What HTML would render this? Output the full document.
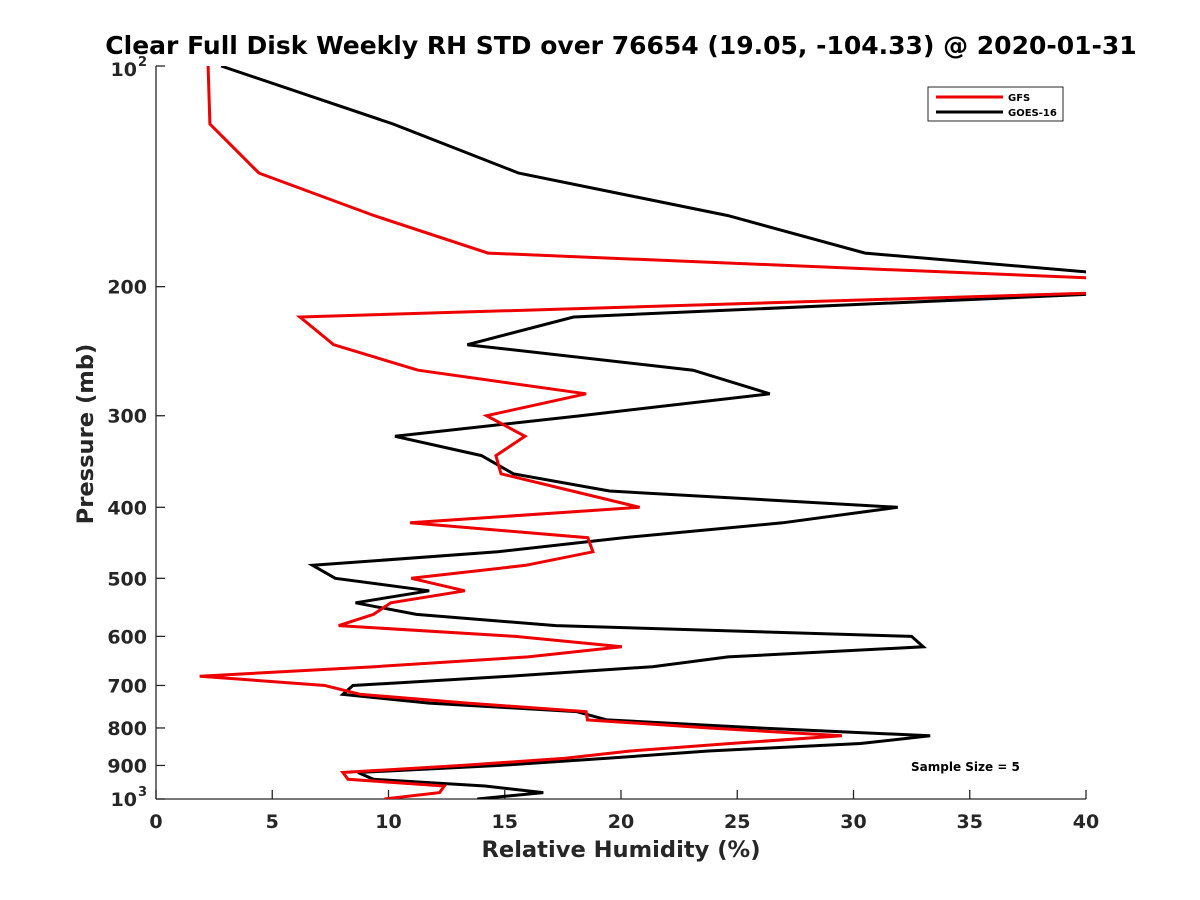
<!DOCTYPE html>
<html><head><meta charset="utf-8"><style>
html,body{margin:0;padding:0;background:#fff;}
svg{display:block;font-family:"DejaVu Sans","Liberation Sans",sans-serif;font-weight:bold;}
</style></head><body>
<svg id="chart" width="1200" height="900" viewBox="0 0 1200 900">
<defs><clipPath id="plotclip"><rect x="156" y="66" width="930" height="733"/></clipPath></defs>
<text x="621" y="54" text-anchor="middle" font-size="25" fill="#000">Clear Full Disk Weekly RH STD over 76654 (19.05, -104.33) @ 2020-01-31</text>
<g id="axes"></g>
<g id="series" clip-path="url(#plotclip)"></g>
<text x="621" y="857" text-anchor="middle" font-size="22.6" fill="#262626">Relative Humidity (%)</text>
<text transform="translate(93,434) rotate(-90)" text-anchor="middle" font-size="22.6" fill="#262626">Pressure (mb)</text>
<g>
<rect x="928" y="87" width="135" height="34" fill="#fff" stroke="#262626" stroke-width="1"/>
<line x1="936" y1="97" x2="1003" y2="97" stroke="#ee0000" stroke-width="3"/>
<text x="1008" y="101" font-size="10">GFS</text>
<line x1="936" y1="112" x2="1003" y2="112" stroke="#000" stroke-width="3"/>
<text x="1008" y="116" font-size="10">GOES-16</text>
</g>
<text x="911" y="771" font-size="12" fill="#000">Sample Size = 5</text>
</svg>
<script>
const pressures = [100,120,140,160,180,200,220,240,260,280,300,320,340,360,380,400,420,440,460,480,500,520,540,560,580,600,620,640,660,680,700,720,740,760,780,800,820,840,860,880,900,920,940,960,980,1000];
const gfsValues = [2.24,2.32,4.43,9.38,14.28,49.3,6.19,7.64,11.27,18.5,14.22,15.87,14.62,14.84,17.9,20.8,10.93,18.57,18.79,15.9,10.98,13.28,10.1,9.35,7.86,15.46,20.04,16.0,9.4,1.88,7.27,8.8,13.4,18.5,18.56,23.8,29.5,24.7,20.4,17.6,13.1,8.04,8.26,12.4,12.2,9.83];
const goesValues = [2.8,10.2,15.6,24.6,30.5,47.5,17.96,13.39,23.1,26.4,18.26,10.28,14.0,15.37,19.5,31.9,26.95,20.1,14.7,6.73,7.71,11.75,8.58,11.2,17.2,32.5,33.0,24.6,21.35,15.2,8.47,8.04,11.75,18.08,19.4,26.0,33.3,30.3,23.76,19.4,14.7,8.69,9.35,14.15,16.66,13.82];
const xTicks = [0,5,10,15,20,25,30,35,40];
const yTicks = [100,200,300,400,500,600,700,800,900,1000];
const yTickLabels = ["10^2","200","300","400","500","600","700","800","900","10^3"];

const X0=156,X1=1086,Y0=66,Y1=799;
function xs(v){return X0+(v-0)/(40-0)*(X1-X0);}
function ys(p){return Y0+Math.log10(p/100)*(Y1-Y0);}
const NS="http://www.w3.org/2000/svg";
const axes=document.getElementById('axes');
const series=document.getElementById('series');
function mk(tag,attrs,parent){const e=document.createElementNS(NS,tag);for(const k in attrs)e.setAttribute(k,attrs[k]);parent.appendChild(e);return e;}

const yl=mk('line',{x1:X0,y1:Y0,x2:X0,y2:Y1,stroke:'#262626','stroke-width':1.3},axes);


const xl=mk('line',{x1:X0,y1:Y1,x2:X1,y2:Y1,stroke:'#262626','stroke-width':1.3},axes);



xTicks.forEach(t=>{
  const x=xs(t);
  const tk=mk('line',{x1:x,y1:Y1,x2:x,y2:Y1-9,stroke:'#262626','stroke-width':1.3},axes);
  
  
  const tx=mk('text',{x:x,y:Y1+29,'text-anchor':'middle','font-size':19,fill:'#262626'},axes);
  tx.textContent=String(t);
  
  
});
yTicks.forEach((p,i)=>{
  const y=ys(p);
  const tk=mk('line',{x1:X0,y1:y,x2:X0+9,y2:y,stroke:'#262626','stroke-width':1.3},axes);
  
  
  const lab=yTickLabels[i];
  if(lab.indexOf('^')>=0){
    const parts=lab.split('^');
    const tx=mk('text',{x:X0-19,y:y+(i===0?10:7),'text-anchor':'end','font-size':19,fill:'#262626'},axes);
    tx.textContent=parts[0];
    
    
    const sp=mk('text',{x:X0-18,y:y+(i===0?0:-3),'text-anchor':'start','font-size':13,fill:'#262626'},axes);
    sp.textContent=parts[1];
    
    
  } else {
    const tx=mk('text',{x:X0-9,y:y+7,'text-anchor':'end','font-size':19,fill:'#262626'},axes);
    tx.textContent=lab;
    
    
  }
});

function drawLine(vals,color,name){
  const d=vals.map((v,i)=>(i?'L':'M')+xs(v).toFixed(1)+','+ys(pressures[i]).toFixed(1)).join(' ');
  const pth=mk('path',{d:d,fill:'none',stroke:color,'stroke-width':3,'stroke-linejoin':'miter'},series);
  
  
}
drawLine(goesValues,'#000','goes16-line');
drawLine(gfsValues,'#ee0000','gfs-line');
</script>
</body></html>
